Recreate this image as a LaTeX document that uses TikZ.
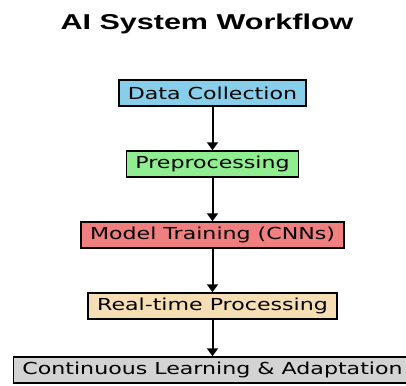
\documentclass[tikz,border=0pt]{standalone}
\usepackage{fontspec}
\usetikzlibrary{arrows.meta}
\newfontfamily\boxfont[FakeStretch=1.34]{DejaVu Sans}
\newfontfamily\titlefont[FakeStretch=1.42]{Liberation Sans}
\definecolor{dcblue}{RGB}{135,206,235}
\definecolor{ppgreen}{RGB}{144,238,144}
\definecolor{mtred}{RGB}{240,128,128}
\definecolor{rtwheat}{RGB}{245,222,179}
\definecolor{clgray}{RGB}{211,211,211}
\begin{document}
\begin{tikzpicture}[x=1pt,y=-1pt,->,>={Triangle[width=11pt,length=8pt]},line width=2pt,node distance=71pt,
    step node/.style={rectangle,draw,line width=1.5pt,minimum height=26pt,inner xsep=9pt,inner ysep=0pt,font=\boxfont\fontsize{16.5}{20}\selectfont}]
            \useasboundingbox (0,0) rectangle (406,385);
            \node (0) at (207,24) {\titlefont\bfseries\fontsize{21.5}{25}\selectfont AI System Workflow};

            \node [step node, fill=dcblue](1) at (212.5,93) {Data Collection};
            \node [step node, fill=ppgreen](2) [below of=1]{Preprocessing};
            \node [step node, fill=mtred](3) [below of=2]{Model Training (CNNs)};
            \node [step node, fill=rtwheat](4) [below of=3]{Real-time Processing};
            \node [step node, fill=clgray](5) [below of=4, yshift=7pt]{Continuous Learning \& Adaptation};

            \path
                (1) edge (2)
                (2) edge (3)
                (3) edge (4)
                (4) edge (5)
                ;
        \end{tikzpicture}
\end{document}
